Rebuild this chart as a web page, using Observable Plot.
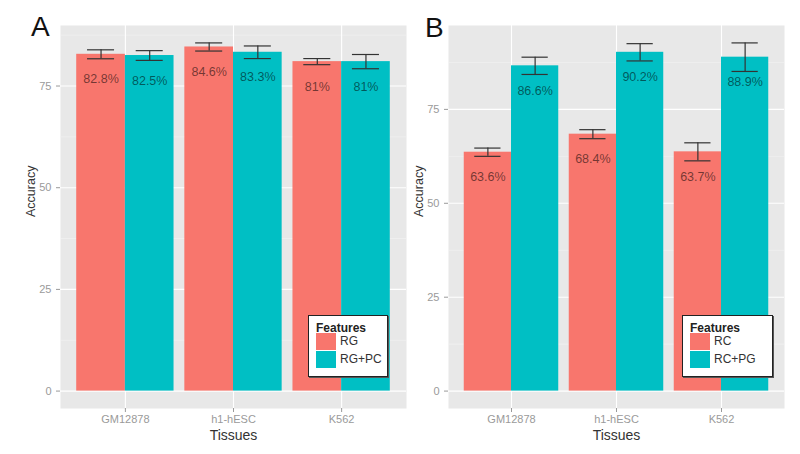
<!DOCTYPE html>
<html>
<head>
<meta charset="utf-8">
<script src="https://cdn.jsdelivr.net/npm/d3@7"></script>
<script src="https://cdn.jsdelivr.net/npm/@observablehq/plot@0.6"></script>
<style>
  html, body { margin: 0; padding: 0; background: #fff; }
  #wrap { position: relative; width: 800px; height: 454px; font-family: "Liberation Sans", Arial, sans-serif; }
  .plot { position: absolute; top: 0; }
  .letter { position: absolute; font-size: 28px; line-height: 28px; color: #111; }
  .legend { position: absolute; box-sizing: border-box; background: #fff; border: 1.5px solid #222; box-shadow: 1px 1px 0 #555; }
  .legend .title { position: absolute; left: 7px; top: 5px; font-size: 12px; font-weight: bold; color: #222; }
  .legend .key { position: absolute; width: 20px; height: 17px; }
  .legend .lab { position: absolute; font-size: 12px; color: #333; line-height: 17px; }
</style>
</head>
<body>
<div id="wrap"></div>
<script>
// ---- data ----
const tissues = ["GM12878", "h1-hESC", "K562"];
const yTicks = [0, 25, 50, 75];
const yMinor = [12.5, 37.5, 62.5, 87.5];
const colors = ["#F8766D", "#00BFC4"];

// Panel A
const featuresA = ["RG", "RG+PC"];
const rgA = [82.8, 84.6, 81.0];
const rgErrA = [1.1, 1.0, 0.75];
const rgLabelsA = ["82.8%", "84.6%", "81%"];
const rgpcA = [82.5, 83.3, 81.0];
const rgpcErrA = [1.2, 1.55, 1.75];
const rgpcLabelsA = ["82.5%", "83.3%", "81%"];

// Panel B
const featuresB = ["RC", "RC+PG"];
const rcB = [63.6, 68.4, 63.7];
const rcErrB = [1.1, 1.2, 2.4];
const rcLabelsB = ["63.6%", "68.4%", "63.7%"];
const rcpgB = [86.6, 90.2, 88.9];
const rcpgErrB = [2.3, 2.3, 3.8];
const rcpgLabelsB = ["86.6%", "90.2%", "88.9%"];

// ---- build rows (position_dodge, width 0.9) ----
function buildRows(features, series) {
  const rows = [];
  tissues.forEach((t, i) => {
    series.forEach((s, j) => {
      rows.push({
        tissue: t,
        feature: features[j],
        value: s.values[i],
        lo: s.values[i] - s.errs[i],
        hi: s.values[i] + s.errs[i],
        label: s.labels[i],
        xc: i + 1 + (j - 0.5) * 0.45
      });
    });
  });
  return rows;
}

const rowsA = buildRows(featuresA, [
  {values: rgA, errs: rgErrA, labels: rgLabelsA},
  {values: rgpcA, errs: rgpcErrA, labels: rgpcLabelsA}
]);
const rowsB = buildRows(featuresB, [
  {values: rcB, errs: rcErrB, labels: rcLabelsB},
  {values: rcpgB, errs: rcpgErrB, labels: rcpgLabelsB}
]);

const font = "Liberation Sans, Arial, sans-serif";

function makePlot(rows, features, width, marginLeft, marginRight) {
  const M = d3.max(rows, d => d.hi);
  const xTicks = d3.range(1, tissues.length + 1);
  return Plot.plot({
    width, height: 454,
    marginLeft, marginRight, marginTop: 25, marginBottom: 46,
    style: {fontFamily: font, background: "transparent"},
    x: {domain: [0.4, tissues.length + 0.6]},
    y: {domain: [-0.05 * M, 1.05 * M]},
    color: {domain: features, range: colors},
    marks: [
      Plot.frame({fill: "#E8E8E8", stroke: "none"}),
      Plot.ruleY(yMinor, {stroke: "#F3F3F3", strokeWidth: 0.6}),
      Plot.ruleY(yTicks, {stroke: "#ffffff", strokeWidth: 1.1}),
      Plot.ruleX(xTicks, {stroke: "#ffffff", strokeWidth: 1.1}),
      Plot.rectY(rows, {x1: d => d.xc - 0.225, x2: d => d.xc + 0.225, y: "value", fill: "feature"}),
      Plot.ruleX(rows, {x: "xc", y1: "lo", y2: "hi", stroke: "#333", strokeWidth: 1.2}),
      Plot.ruleY(rows, {x1: d => d.xc - 0.125, x2: d => d.xc + 0.125, y: "hi", stroke: "#333", strokeWidth: 1.2}),
      Plot.ruleY(rows, {x1: d => d.xc - 0.125, x2: d => d.xc + 0.125, y: "lo", stroke: "#333", strokeWidth: 1.2}),
      Plot.text(rows, {x: "xc", y: "value", text: "label", dy: 25, fill: "black", fillOpacity: 0.55, fontSize: 12.5}),
      Plot.axisY(yTicks, {tickSize: 4, tickPadding: 5, color: "#9a9a9a", fontSize: 11, label: null}),
      Plot.axisX(xTicks, {tickSize: 4, tickPadding: 3, color: "#9a9a9a", fontSize: 11, label: null, tickFormat: i => tissues[i - 1]}),
      Plot.text(["Tissues"], {text: d => d, frameAnchor: "bottom", dy: 31, fontSize: 14, fill: "#333"}),
      Plot.text(["Accuracy"], {text: d => d, frameAnchor: "left", rotate: -90, dx: -30, fontSize: 12.5, fill: "#333"})
    ]
  });
}

const wrap = document.getElementById("wrap");
const plotA = makePlot(rowsA, featuresA, 410, 60, 4);
plotA.classList.add("plot"); plotA.style.left = "0px";
wrap.appendChild(plotA);
const plotB = makePlot(rowsB, featuresB, 390, 38, 16);
plotB.classList.add("plot"); plotB.style.left = "410px";
wrap.appendChild(plotB);

function letter(txt, left, top) {
  const d = document.createElement("div");
  d.className = "letter"; d.textContent = txt;
  d.style.left = left + "px"; d.style.top = top + "px";
  wrap.appendChild(d);
}
letter("A", 31, 13);
letter("B", 425, 14);

function legend(features, left, top, width) {
  const box = document.createElement("div");
  box.className = "legend";
  box.style.left = left + "px"; box.style.top = top + "px";
  box.style.width = width + "px"; box.style.height = "62px";
  const t = document.createElement("div");
  t.className = "title"; t.textContent = "Features";
  box.appendChild(t);
  features.forEach((f, i) => {
    const k = document.createElement("div");
    k.className = "key"; k.style.background = colors[i];
    k.style.left = "7px"; k.style.top = (17 + i * 17.5) + "px";
    box.appendChild(k);
    const l = document.createElement("div");
    l.className = "lab"; l.textContent = f;
    l.style.left = "31px"; l.style.top = (17 + i * 17.5) + "px";
    box.appendChild(l);
  });
  wrap.appendChild(box);
}
legend(featuresA, 308, 315, 80);
legend(featuresB, 682, 315, 91);
</script>
</body>
</html>
